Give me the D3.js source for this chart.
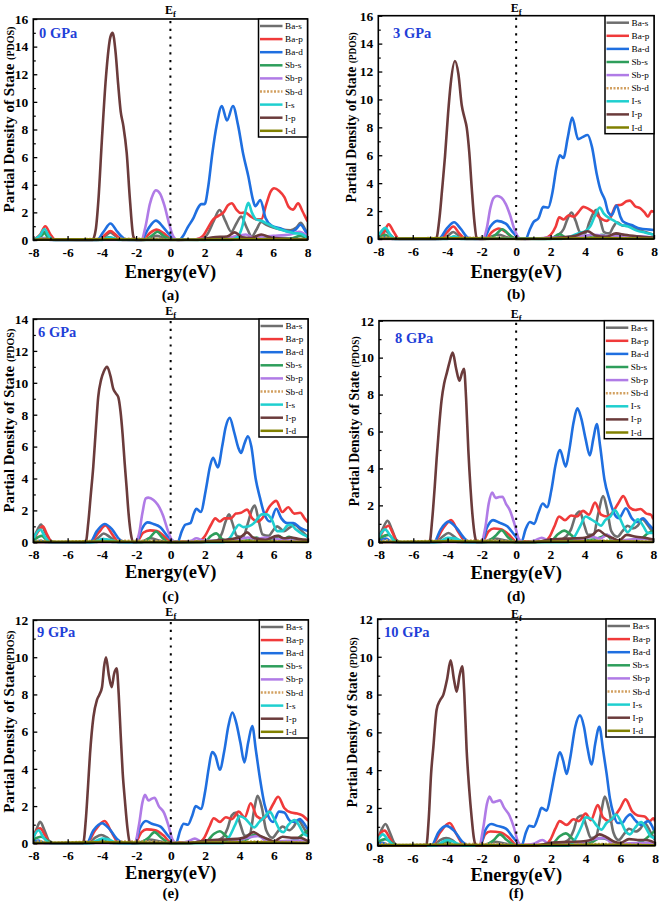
<!DOCTYPE html>
<html><head><meta charset="utf-8">
<script src="https://cdn.jsdelivr.net/npm/d3@7"></script>
<style>body{margin:0;background:#fff}svg{display:block}</style>
</head><body>
<script>
// ---------- labels ----------
const orbitals = ["Ba-s","Ba-p","Ba-d","Sb-s","Sb-p","Sb-d","I-s","I-p","I-d"];
const pressures = ["0 GPa","3 GPa","6 GPa","8 GPa","9 GPa","10 GPa"];
const panelLetters = ["(a)","(b)","(c)","(d)","(e)","(f)"];
const yMaxes = [16,16,14,12,12,12];
const energyTicks = [-8,-6,-4,-2,0,2,4,6,8];
const energyMinor = [-7,-5,-3,-1,1,3,5,7];
const yLabels = ["Partial Density of State ","Partial Density of State ","Partial Density of State ","Partial Density of State ","Partial Density of State","Partial Density of State "];

// ---------- 0 GPa ----------
const baS_0 = [[-8,0],[-7.6,0.3],[-7.35,0.6],[-7.1,0.2],[-6.8,0],[-4.2,0],[-3.8,0.3],[-3.5,0.55],[-3.2,0.3],[-2.8,0],[-1.6,0],[-1.2,0.15],[-0.8,0.3],[-0.4,0.15],[0,0],[1.8,0.05],[2.2,0.5],[2.5,1.3],[2.87,2.17],[3.2,1.4],[3.55,0.6],[3.85,1.2],[4.13,1.7],[4.45,0.9],[4.75,0.25],[5.0,0.7],[5.3,1.3],[5.6,1.1],[6.0,0.9],[6.5,0.75],[7.0,0.7],[7.35,0.9],[7.6,1.25],[7.85,0.8],[8,0.4]];
const baP_0 = [[-8,0],[-7.6,0.4],[-7.3,1.0],[-7.0,0.4],[-6.7,0],[-4.2,0],[-3.8,0.4],[-3.5,0.65],[-3.2,0.4],[-2.8,0],[-1.6,0],[-1.2,0.5],[-0.8,0.75],[-0.4,0.5],[0,0.1],[0.4,0],[1.5,0.05],[1.9,0.3],[2.2,0.9],[2.5,1.5],[2.8,1.75],[3.1,2.0],[3.35,2.5],[3.58,2.66],[3.85,2.2],[4.1,1.95],[4.35,2.0],[4.7,1.7],[5.0,1.5],[5.3,1.5],[5.6,2.6],[5.85,3.5],[6.05,3.75],[6.35,3.55],[6.65,3.1],[6.9,2.4],[7.15,2.2],[7.45,2.65],[7.7,2.1],[7.9,1.6],[8,1.35]];
const baD_0 = [[-8,0],[-7.6,0.1],[-7.35,0.15],[-7.0,0],[-4.3,0],[-3.9,0.6],[-3.5,1.2],[-3.1,0.6],[-2.7,0.1],[-2.4,0],[-1.7,0],[-1.3,0.8],[-0.85,1.4],[-0.4,0.9],[0,0.3],[0.5,0],[0.75,0.3],[1.0,0.9],[1.35,1.6],[1.6,2.3],[1.8,2.6],[2.0,2.6],[2.2,3.8],[2.45,6.3],[2.7,8.3],[3.0,9.7],[3.3,8.65],[3.65,9.7],[3.95,8.3],[4.25,6.2],[4.55,4.6],[4.8,3.0],[4.95,2.45],[5.25,2.9],[5.55,1.6],[5.9,1.05],[6.4,0.85],[6.9,0.6],[7.25,0.7],[7.6,1.1],[7.85,0.7],[8,0.4]];
const sbS_0 = [[-8,0],[-7.6,0.2],[-7.35,0.5],[-7.1,0.1],[-6.8,0],[-4.0,0],[-3.6,0.2],[-3.2,0.05],[-1.5,0],[-1.1,0.3],[-0.75,0.6],[-0.4,0.3],[0,0.05],[2.0,0],[2.6,0.15],[3.5,0.1],[4.5,0.1],[5.3,0.3],[5.8,0.1],[7.0,0.1],[7.6,0.3],[8,0.1]];
const sbP_0 = [[-8,0],[-7.4,0.1],[-7,0],[-1.7,0],[-1.45,1.0],[-1.2,2.6],[-1.0,3.35],[-0.85,3.6],[-0.6,3.35],[-0.35,2.5],[-0.1,1.3],[0.15,0.3],[0.4,0],[1.5,0.05],[2.5,0.15],[3.5,0.2],[4.1,0.35],[4.4,0.4],[4.8,0.2],[5.3,0.25],[6.0,0.3],[7.0,0.4],[7.5,0.6],[8,0.3]];
const sbD_0 = [[-8,0.04],[-7.35,0.12],[-6.8,0.04],[-3.5,0.1],[-0.8,0.1],[0,0.04],[4,0.1],[8,0.04]];
const iS_0 = [[-8,0],[-7.6,0.35],[-7.35,0.8],[-7.1,0.3],[-6.8,0],[-4.0,0],[-3.5,0.2],[-3.0,0],[3.5,0],[3.9,0.2],[4.2,1.0],[4.4,2.2],[4.55,2.7],[4.75,2.0],[5.0,1.5],[5.3,1.4],[5.7,1.15],[6.2,0.85],[6.7,0.65],[7.2,0.5],[7.6,0.45],[8,0.15]];
const iP_0 = [[-8,0],[-7.3,0.05],[-4.55,0],[-4.35,0.8],[-4.2,2.9],[-4.0,7.2],[-3.76,11.8],[-3.5,14.7],[-3.37,15.0],[-3.2,13.6],[-3.05,11.3],[-2.9,9.3],[-2.75,8.3],[-2.55,6.3],[-2.36,2.9],[-2.16,0.25],[-2.0,0],[1.5,0],[2.5,0.2],[3.3,0.25],[3.75,0.55],[4.2,0.2],[4.7,0.15],[5.3,0.4],[5.8,0.2],[6.5,0.1],[8,0.05]];
const iD_0 = [[-8,0.02],[-3.5,0.05],[0,0.02],[5,0.05],[8,0.02]];

// ---------- 3 GPa ----------
const baS_3 = [[-8,0.1],[-7.6,0.6],[-7.3,0.3],[-7.0,0],[-4.3,0],[-3.95,0.25],[-3.65,0.5],[-3.3,0.2],[-3.0,0],[-1.8,0],[-1.4,0.2],[-1.0,0.3],[-0.6,0.15],[0,0],[2.0,0.05],[2.4,0.25],[2.75,0.7],[3.0,1.5],[3.22,1.9],[3.45,1.3],[3.7,0.5],[4.0,0.4],[4.25,1.2],[4.5,1.9],[4.65,2.1],[4.85,1.5],[5.1,0.5],[5.4,0.4],[5.65,0.9],[5.85,1.2],[6.2,0.95],[6.6,1.0],[7.0,0.7],[7.5,0.5],[8,0.3]];
const baP_3 = [[-8,0],[-7.7,0.4],[-7.4,1.05],[-7.1,0.5],[-6.8,0],[-4.4,0],[-4.0,0.5],[-3.65,0.9],[-3.3,0.4],[-2.9,0],[-1.8,0],[-1.4,0.5],[-1.0,0.75],[-0.6,0.5],[-0.2,0.1],[0.3,0],[1.6,0.05],[2.0,0.3],[2.3,0.9],[2.5,1.55],[2.75,1.4],[3.05,1.7],[3.35,1.6],[3.6,1.9],[3.9,2.3],[4.15,2.2],[4.4,2.0],[4.7,1.7],[5.0,1.4],[5.25,1.3],[5.5,1.6],[5.8,2.4],[6.1,2.45],[6.4,2.7],[6.6,2.75],[6.9,2.35],[7.2,2.2],[7.45,1.9],[7.65,1.6],[7.85,2.0],[8,1.95]];
const baD_3 = [[-8,0],[-7.6,0.15],[-7.2,0],[-4.5,0],[-4.0,0.8],[-3.6,1.2],[-3.2,0.7],[-2.8,0.1],[-2.4,0],[-1.9,0],[-1.5,0.9],[-1.1,1.3],[-0.6,1.1],[-0.2,0.5],[0.2,0.05],[0.55,0],[0.8,0.7],[1.0,1.2],[1.3,1.5],[1.57,2.3],[1.86,2.25],[2.1,3.3],[2.35,5.2],[2.54,6.0],[2.74,5.8],[3.0,7.3],[3.25,8.7],[3.6,7.15],[3.85,7.3],[4.15,7.45],[4.4,6.6],[4.67,4.7],[4.9,3.5],[5.15,2.8],[5.35,1.9],[5.54,1.7],[5.83,2.4],[6.05,1.6],[6.2,1.25],[6.7,1.0],[7.2,0.75],[8,0.65]];
const sbS_3 = [[-8,0],[-7.6,0.3],[-7.2,0],[-4.0,0],[-3.6,0.15],[-3.2,0],[-1.6,0],[-1.2,0.3],[-0.8,0.7],[-0.4,0.3],[0,0],[2.0,0],[2.5,0.35],[2.9,0.1],[4.5,0.15],[5.0,0.3],[5.4,0.1],[5.8,0.35],[6.3,0.1],[8,0.1]];
const sbP_3 = [[-8,0],[-1.95,0],[-1.7,0.8],[-1.5,2.2],[-1.3,2.95],[-1.1,3.08],[-0.85,2.95],[-0.6,2.5],[-0.35,1.7],[-0.1,0.7],[0.2,0.05],[0.5,0],[2.0,0.1],[3.5,0.15],[4.5,0.3],[5.5,0.2],[7.0,0.2],[8,0.1]];
const sbD_3 = [[-8,0.04],[-7.6,0.12],[-7.0,0.04],[-3.6,0.1],[-1.0,0.1],[0,0.04],[4.5,0.1],[8,0.04]];
const iS_3 = [[-8,0.2],[-7.6,0.8],[-7.3,0.3],[-7.0,0],[-4.0,0],[-3.6,0.2],[-3.2,0],[-1,0.05],[2.5,0],[3.2,0.2],[3.7,0.45],[4.0,0.55],[4.3,0.9],[4.55,1.6],[4.85,2.25],[5.1,1.8],[5.4,1.5],[5.7,1.3],[6.0,1.05],[6.5,0.9],[7.0,0.6],[7.5,0.45],[8,0.3]];
const iP_3 = [[-8,0],[-4.65,0],[-4.45,1.5],[-4.3,3.5],[-4.13,5.9],[-3.95,9.0],[-3.8,11.1],[-3.55,12.75],[-3.35,11.8],[-3.16,9.6],[-3.0,8.7],[-2.87,8.0],[-2.72,6.2],[-2.58,3.7],[-2.42,1.2],[-2.29,0.05],[-2.1,0],[1.5,0],[2.5,0.1],[3.5,0.25],[4.15,0.55],[4.6,0.25],[5.2,0.15],[5.8,0.4],[6.3,0.3],[7.0,0.2],[8,0.1]];
const iD_3 = [[-8,0.02],[-3.6,0.05],[0,0.02],[5,0.05],[8,0.02]];

// ---------- 6 GPa ----------
const baS_6 = [[-8,0.2],[-7.75,0.8],[-7.55,1.12],[-7.3,0.6],[-7.0,0.1],[-6.7,0],[-4.6,0],[-4.2,0.3],[-3.9,0.55],[-3.5,0.3],[-3.0,0],[-1.8,0],[-1.2,0.25],[-0.6,0.1],[0,0],[2.6,0.05],[3.0,0.6],[3.2,1.3],[3.4,1.75],[3.6,1.2],[3.85,0.4],[4.2,0.3],[4.5,1.2],[4.75,2.1],[4.9,2.3],[5.1,1.5],[5.35,0.5],[5.7,0.4],[6.0,0.8],[6.2,1.0],[6.6,0.7],[6.9,0.9],[7.2,1.1],[7.6,0.75],[8,0.3]];
const baP_6 = [[-8,0.1],[-7.7,0.7],[-7.45,1.0],[-7.2,0.5],[-6.9,0],[-4.7,0],[-4.2,0.6],[-3.8,1.05],[-3.4,0.5],[-3.0,0],[-2.0,0],[-1.6,0.6],[-1.2,0.75],[-0.8,0.7],[-0.4,0.4],[0,0.05],[1.6,0.05],[2.0,0.4],[2.35,1.1],[2.6,1.5],[2.85,1.3],[3.15,1.5],[3.5,1.5],[3.8,1.8],[4.1,1.85],[4.45,2.05],[4.75,1.5],[5.1,1.3],[5.4,1.6],[5.8,2.3],[6.15,2.6],[6.5,1.9],[6.85,2.2],[7.2,1.8],[7.55,1.85],[7.8,1.5],[8,1.25]];
const baD_6 = [[-8,0],[-7.6,0.1],[-7.2,0],[-4.7,0],[-4.3,0.7],[-3.85,1.15],[-3.4,0.8],[-3.0,0.2],[-2.6,0],[-2.0,0],[-1.7,0.8],[-1.35,1.25],[-1.0,1.15],[-0.6,0.95],[-0.2,0.4],[0.2,0.05],[0.4,0],[0.65,0.7],[0.85,1.1],[1.15,1.2],[1.35,1.8],[1.5,2.1],[1.75,1.9],[2.05,3.3],[2.3,4.8],[2.47,5.3],[2.75,4.7],[3.0,6.0],[3.2,7.2],[3.44,7.8],[3.7,6.9],[3.95,5.9],[4.1,5.6],[4.3,6.2],[4.5,6.65],[4.7,6.0],[4.95,4.0],[5.2,2.8],[5.45,1.8],[5.8,1.3],[6.15,2.1],[6.45,1.5],[6.8,1.2],[7.15,1.2],[7.55,0.9],[8,0.7]];
const sbS_6 = [[-8,0.1],[-7.5,0.4],[-7.1,0],[-4.3,0],[-3.9,0.2],[-3.4,0],[-1.7,0],[-1.2,0.3],[-0.85,0.68],[-0.5,0.3],[-0.1,0],[2.0,0.05],[2.35,0.4],[2.65,0.56],[3.0,0.2],[3.5,0.05],[4.6,0.15],[5.0,0.3],[5.4,0.1],[6.0,0.2],[6.3,0.4],[6.6,0.2],[6.9,0.35],[7.3,0.15],[8,0.1]];
const sbP_6 = [[-8,0],[-2.1,0],[-1.85,0.5],[-1.65,1.8],[-1.45,2.75],[-1.3,2.8],[-1.0,2.65],[-0.75,2.35],[-0.45,1.7],[-0.15,0.7],[0.15,0.05],[0.5,0],[1.2,0.1],[1.5,0.25],[1.9,0.1],[3.5,0.1],[4.5,0.3],[5.0,0.2],[5.5,0.3],[6.5,0.15],[8,0.05]];
const sbD_6 = [[-8,0.04],[-7.5,0.12],[-7.0,0.04],[-3.8,0.1],[-1.2,0.1],[0,0.04],[4.5,0.1],[8,0.04]];
const iS_6 = [[-8,0.2],[-7.6,0.8],[-7.3,0.3],[-7.0,0],[-4.5,0],[-4.0,0.2],[-3.5,0.15],[-3.0,0],[3.0,0],[3.5,0.35],[3.8,0.9],[3.97,1.1],[4.25,0.95],[4.55,1.0],[4.85,1.2],[5.1,1.55],[5.3,1.75],[5.6,1.75],[5.9,1.4],[6.2,0.7],[6.5,0.7],[6.8,1.05],[7.0,1.1],[7.3,0.8],[7.7,0.5],[8,0.35]];
const iP_6 = [[-8,0],[-4.95,0],[-4.8,1.2],[-4.65,3.0],[-4.51,4.7],[-4.35,7.2],[-4.22,9.1],[-4.05,10.2],[-3.9,10.7],[-3.7,11.0],[-3.5,10.4],[-3.35,9.65],[-3.2,9.35],[-3.05,9.1],[-2.92,8.2],[-2.8,6.8],[-2.68,5.0],[-2.57,3.5],[-2.45,1.8],[-2.32,0.55],[-2.18,0],[1.5,0],[2.5,0.1],[3.5,0.2],[4.1,0.35],[4.45,0.62],[4.8,0.3],[5.5,0.15],[6.2,0.4],[6.6,0.25],[7.0,0.3],[7.5,0.2],[8,0.15]];
const iD_6 = [[-8,0.02],[-3.8,0.05],[0,0.02],[5,0.05],[8,0.02]];

// ---------- 8 GPa ----------
const baS_8 = [[-8,0.3],[-7.75,0.8],[-7.5,1.17],[-7.25,0.7],[-7.0,0.15],[-6.7,0],[-4.7,0],[-4.3,0.3],[-3.95,0.5],[-3.6,0.3],[-3.2,0],[-2.0,0],[-1.3,0.2],[-0.6,0.1],[0,0],[2.5,0.1],[2.9,0.3],[3.2,0.7],[3.45,1.4],[3.72,1.66],[3.95,1.0],[4.2,0.4],[4.5,0.4],[4.8,1.6],[5.07,2.5],[5.3,1.8],[5.55,0.6],[5.9,0.3],[6.2,0.6],[6.5,0.9],[6.8,0.75],[7.1,0.9],[7.35,1.25],[7.7,0.9],[8,0.5]];
const baP_8 = [[-8,0.2],[-7.7,0.7],[-7.45,0.9],[-7.2,0.5],[-6.9,0],[-4.8,0],[-4.3,0.7],[-3.8,1.2],[-3.4,0.6],[-2.9,0],[-2.0,0],[-1.6,0.6],[-1.3,0.75],[-0.9,0.7],[-0.4,0.4],[0,0.05],[1.6,0.05],[1.95,0.3],[2.25,0.9],[2.5,1.4],[2.85,1.2],[3.2,1.45],[3.55,1.4],[3.9,1.7],[4.25,1.5],[4.6,2.15],[4.95,1.5],[5.3,1.4],[5.6,1.6],[5.95,2.1],[6.25,2.5],[6.6,1.9],[6.95,1.75],[7.25,1.8],[7.6,1.55],[7.85,1.5],[8,1.25]];
const baD_8 = [[-8,0.1],[-7.6,0.2],[-7.2,0],[-4.8,0],[-4.4,0.7],[-3.95,1.12],[-3.5,0.8],[-3.0,0.2],[-2.6,0],[-2.0,0],[-1.7,0.8],[-1.35,1.2],[-0.95,1.05],[-0.5,0.85],[-0.1,0.4],[0.3,0],[0.55,0.7],[0.8,1.1],[1.05,1.0],[1.3,1.6],[1.55,2.1],[1.8,1.9],[2.05,2.8],[2.3,4.2],[2.56,5.0],[2.89,4.1],[3.1,5.0],[3.35,6.5],[3.57,7.25],[3.8,6.7],[4.05,5.6],[4.3,4.7],[4.5,5.6],[4.7,6.4],[4.9,5.2],[5.15,3.4],[5.45,2.3],[5.75,1.5],[6.0,1.3],[6.4,1.84],[6.75,1.3],[7.05,1.1],[7.4,1.3],[7.7,1.0],[8,0.7]];
const sbS_8 = [[-8,0.2],[-7.45,0.4],[-7.1,0.1],[-6.8,0],[-4.4,0],[-3.9,0.2],[-3.4,0],[-1.8,0],[-1.2,0.35],[-0.85,0.65],[-0.5,0.3],[0,0],[2.0,0.05],[2.45,0.45],[2.8,0.63],[3.2,0.4],[3.6,0.1],[4.5,0.15],[5.0,0.3],[5.3,0.4],[5.6,0.1],[6.5,0.05],[7.3,0.2],[7.7,0.5],[8,0.6]];
const sbP_8 = [[-8,0],[-2.05,0],[-1.8,0.8],[-1.6,2.1],[-1.4,2.69],[-1.2,2.4],[-1.0,2.45],[-0.8,2.47],[-0.6,2.1],[-0.35,1.7],[-0.1,1.0],[0.15,0.2],[0.4,0],[1.1,0.1],[1.5,0.25],[1.9,0.1],[3.5,0.1],[4.4,0.3],[4.9,0.2],[5.3,0.4],[5.8,0.1],[7.5,0.2],[8,0.1]];
const sbD_8 = [[-8,0.04],[-7.5,0.12],[-7.0,0.04],[-3.9,0.1],[-1.2,0.1],[0,0.04],[5,0.1],[8,0.04]];
const iS_8 = [[-8,0.3],[-7.65,0.7],[-7.3,0.3],[-7.0,0],[-4.6,0],[-4.0,0.25],[-3.5,0.2],[-3.0,0],[3.0,0],[3.4,0.3],[3.75,0.9],[4.05,1.4],[4.35,1.25],[4.7,1.05],[4.95,0.9],[5.2,1.2],[5.5,1.4],[5.75,1.75],[6.0,1.4],[6.3,0.8],[6.5,0.55],[6.8,0.9],[7.1,1.25],[7.4,0.9],[7.7,0.5],[8,0.5]];
const iP_8 = [[-8,0],[-5.05,0],[-4.9,1.2],[-4.75,3.0],[-4.64,4.5],[-4.5,6.2],[-4.35,7.7],[-4.2,8.6],[-4.05,9.15],[-3.9,9.7],[-3.7,10.27],[-3.5,9.4],[-3.31,8.75],[-3.15,9.2],[-3.04,9.39],[-2.92,7.8],[-2.79,5.0],[-2.66,2.9],[-2.54,1.4],[-2.4,0.3],[-2.3,0],[1.0,0],[2.0,0.15],[3.0,0.2],[4.0,0.25],[4.45,0.4],[4.8,0.65],[5.2,0.4],[5.7,0.2],[6.0,0.1],[6.45,0.4],[7.0,0.3],[7.5,0.25],[8,0.15]];
const iD_8 = [[-8,0.02],[-3.9,0.05],[0,0.02],[5,0.05],[8,0.02]];

// ---------- 9 GPa ----------
const baS_9 = [[-8,0.3],[-7.8,0.8],[-7.6,1.15],[-7.35,0.7],[-7.1,0.15],[-6.8,0],[-4.8,0],[-4.4,0.3],[-4.05,0.45],[-3.7,0.3],[-3.3,0],[-2.0,0],[-1.3,0.2],[-0.6,0.1],[0,0],[2.5,0.1],[3.0,0.3],[3.3,0.8],[3.55,1.5],[3.8,1.65],[4.05,1.0],[4.3,0.4],[4.6,0.5],[4.85,1.8],[5.05,2.55],[5.3,1.9],[5.55,0.7],[5.9,0.3],[6.2,0.6],[6.5,0.9],[6.9,0.7],[7.15,0.9],[7.4,1.25],[7.75,0.8],[8,0.4]];
const baP_9 = [[-8,0.3],[-7.8,0.7],[-7.6,0.8],[-7.3,0.4],[-7.0,0],[-4.9,0],[-4.4,0.7],[-3.85,1.2],[-3.45,0.6],[-3.0,0],[-2.1,0],[-1.7,0.6],[-1.4,0.75],[-0.9,0.7],[-0.4,0.4],[0,0.05],[1.6,0.05],[1.95,0.3],[2.25,0.9],[2.5,1.35],[2.85,1.15],[3.2,1.4],[3.55,1.3],[3.95,1.7],[4.3,1.4],[4.65,2.15],[5.0,1.45],[5.35,1.3],[5.6,1.5],[5.95,2.1],[6.25,2.5],[6.6,1.9],[7.0,1.65],[7.35,1.6],[7.65,1.5],[8,1.2]];
const baD_9 = [[-8,0.1],[-7.7,0.15],[-7.3,0],[-4.9,0],[-4.5,0.7],[-4.0,1.08],[-3.6,0.8],[-3.1,0.2],[-2.7,0],[-2.1,0],[-1.8,0.8],[-1.45,1.2],[-1.1,1.05],[-0.6,0.9],[-0.15,0.4],[0.3,0],[0.55,0.7],[0.75,1.05],[1.0,1.0],[1.25,1.5],[1.45,2.0],[1.75,1.85],[2.0,2.8],[2.2,4.0],[2.4,4.9],[2.6,4.7],[2.85,3.95],[3.1,4.9],[3.35,6.3],[3.58,7.03],[3.8,6.5],[4.05,5.4],[4.28,4.35],[4.5,5.4],[4.74,6.3],[4.95,5.0],[5.2,3.4],[5.45,2.1],[5.7,1.4],[5.95,1.15],[6.3,1.7],[6.6,1.65],[6.95,1.2],[7.25,1.15],[7.5,1.3],[7.8,1.0],[8,0.7]];
const sbS_9 = [[-8,0.2],[-7.55,0.35],[-7.1,0.1],[-6.8,0],[-4.5,0],[-4.0,0.2],[-3.5,0],[-1.9,0],[-1.3,0.3],[-0.95,0.6],[-0.55,0.3],[0,0],[2.0,0.05],[2.5,0.5],[2.85,0.65],[3.2,0.4],[3.6,0.1],[4.4,0.2],[4.8,0.45],[5.4,0.3],[5.8,0.1],[6.5,0.05],[7.3,0.2],[7.7,0.5],[8,0.7]];
const sbP_9 = [[-8,0],[-2.1,0],[-1.85,1.0],[-1.65,2.2],[-1.5,2.6],[-1.3,2.3],[-1.1,2.4],[-0.95,2.45],[-0.7,2.0],[-0.4,1.65],[-0.15,1.0],[0.1,0.2],[0.35,0],[1.0,0.1],[1.4,0.25],[1.8,0.1],[3.5,0.1],[4.5,0.3],[5.1,0.4],[5.6,0.1],[7.5,0.15],[8,0.1]];
const sbD_9 = [[-8,0.04],[-7.6,0.12],[-7.0,0.04],[-4.0,0.1],[-1.3,0.1],[0,0.04],[5,0.1],[8,0.04]];
const iS_9 = [[-8,0.3],[-7.7,0.7],[-7.4,0.3],[-7.0,0],[-4.7,0],[-4.0,0.25],[-3.6,0.2],[-3.1,0],[3.0,0],[3.4,0.35],[3.75,1.0],[4.0,1.45],[4.35,1.3],[4.6,1.05],[4.85,0.85],[5.15,1.15],[5.45,1.4],[5.75,1.7],[6.05,1.25],[6.35,0.7],[6.55,0.6],[6.85,1.0],[7.2,1.25],[7.5,0.9],[7.75,0.5],[8,0.4]];
const iP_9 = [[-8,0],[-5.1,0],[-4.95,1.2],[-4.82,3.0],[-4.7,4.8],[-4.5,6.8],[-4.3,7.7],[-4.15,8.0],[-4.0,8.4],[-3.88,9.5],[-3.77,10.0],[-3.6,9.0],[-3.44,8.39],[-3.3,9.1],[-3.15,9.4],[-3.03,8.0],[-2.92,5.9],[-2.8,3.8],[-2.67,2.3],[-2.52,0.8],[-2.4,0.1],[-2.25,0],[1.0,0],[2.0,0.15],[3.0,0.2],[4.0,0.25],[4.4,0.35],[4.8,0.6],[5.2,0.4],[5.7,0.2],[6.0,0.1],[6.5,0.35],[7.0,0.3],[7.5,0.3],[8,0.1]];
const iD_9 = [[-8,0.02],[-4.0,0.05],[0,0.02],[5,0.05],[8,0.02]];

// ---------- 10 GPa ----------
const baS_10 = [[-8,0.3],[-7.8,0.8],[-7.55,1.15],[-7.3,0.7],[-7.05,0.15],[-6.8,0],[-4.8,0],[-4.4,0.3],[-4.05,0.4],[-3.7,0.3],[-3.3,0],[-2.0,0],[-1.3,0.2],[-0.6,0.1],[0,0],[2.5,0.1],[3.0,0.3],[3.3,0.8],[3.55,1.5],[3.8,1.6],[4.05,1.0],[4.3,0.4],[4.6,0.5],[4.9,1.8],[5.1,2.6],[5.35,1.9],[5.6,0.7],[5.9,0.3],[6.2,0.6],[6.5,0.9],[6.9,0.75],[7.15,0.9],[7.4,1.2],[7.75,0.7],[8,0.3]];
const baP_10 = [[-8,0.3],[-7.8,0.7],[-7.6,0.8],[-7.3,0.4],[-7.0,0],[-4.9,0],[-4.4,0.7],[-3.85,1.2],[-3.45,0.6],[-3.0,0],[-2.1,0],[-1.8,0.6],[-1.5,0.75],[-0.9,0.7],[-0.4,0.4],[0,0.05],[1.6,0.05],[1.95,0.3],[2.25,0.9],[2.5,1.3],[2.9,1.1],[3.3,1.4],[3.6,1.3],[4.0,1.7],[4.3,1.35],[4.7,2.15],[5.0,1.5],[5.4,1.3],[5.7,1.6],[6.0,2.0],[6.3,2.45],[6.7,1.8],[7.0,1.6],[7.4,1.55],[7.7,1.3],[7.9,1.45],[8,1.3]];
const baD_10 = [[-8,0.1],[-7.7,0.15],[-7.3,0],[-4.9,0],[-4.5,0.7],[-4.05,1.05],[-3.6,0.8],[-3.1,0.2],[-2.7,0],[-2.1,0],[-1.8,0.8],[-1.45,1.15],[-1.1,1.05],[-0.6,0.9],[-0.15,0.4],[0.3,0],[0.55,0.7],[0.75,1.05],[1.0,1.0],[1.25,1.5],[1.45,2.0],[1.75,1.85],[2.0,2.8],[2.25,4.0],[2.52,4.95],[2.7,4.5],[2.9,3.8],[3.1,4.6],[3.4,6.3],[3.67,6.9],[3.9,6.3],[4.1,5.2],[4.35,4.3],[4.55,5.4],[4.79,6.3],[5.0,5.1],[5.21,3.8],[5.4,2.5],[5.6,1.7],[5.85,1.2],[6.1,1.2],[6.35,1.5],[6.56,1.66],[6.85,1.35],[7.2,1.1],[7.6,1.3],[7.85,1.0],[8,0.65]];
const sbS_10 = [[-8,0.2],[-7.55,0.35],[-7.1,0.1],[-6.8,0],[-4.5,0],[-4.0,0.2],[-3.5,0],[-1.9,0],[-1.3,0.3],[-0.95,0.6],[-0.55,0.3],[0,0],[2.0,0.05],[2.5,0.5],[2.85,0.65],[3.2,0.4],[3.6,0.1],[4.4,0.2],[4.8,0.4],[5.4,0.3],[5.8,0.1],[6.5,0.05],[7.3,0.25],[7.7,0.55],[8,0.8]];
const sbP_10 = [[-8,0],[-2.15,0],[-1.9,1.0],[-1.7,2.2],[-1.55,2.6],[-1.35,2.3],[-1.15,2.35],[-0.95,2.4],[-0.7,2.0],[-0.4,1.6],[-0.15,1.0],[0.1,0.2],[0.35,0],[1.0,0.1],[1.5,0.3],[1.9,0.1],[3.5,0.1],[4.5,0.35],[5.1,0.4],[5.6,0.1],[7.5,0.15],[8,0.1]];
const sbD_10 = [[-8,0.04],[-7.6,0.12],[-7.0,0.04],[-4.0,0.1],[-1.3,0.1],[0,0.04],[5,0.1],[8,0.04]];
const iS_10 = [[-8,0.3],[-7.7,0.6],[-7.4,0.3],[-7.0,0],[-4.7,0],[-4.0,0.3],[-3.6,0.2],[-3.1,0],[3.0,0],[3.4,0.35],[3.75,1.0],[4.0,1.5],[4.35,1.4],[4.65,1.05],[4.9,0.85],[5.2,1.2],[5.5,1.4],[5.75,1.65],[6.05,1.25],[6.35,0.7],[6.55,0.6],[6.85,0.95],[7.2,1.25],[7.5,0.9],[7.75,0.5],[8,0.4]];
const iP_10 = [[-8,0],[-5.2,0],[-5.05,1.5],[-4.92,3.8],[-4.79,5.2],[-4.6,7.2],[-4.4,7.7],[-4.21,8.0],[-4.0,8.8],[-3.79,9.82],[-3.6,8.8],[-3.44,8.15],[-3.28,9.0],[-3.12,9.5],[-3.0,8.0],[-2.87,5.1],[-2.72,3.0],[-2.58,1.5],[-2.45,0.4],[-2.33,0],[1.0,0],[2.0,0.15],[3.0,0.2],[4.0,0.25],[4.4,0.35],[4.8,0.6],[5.2,0.45],[5.7,0.2],[6.0,0.15],[6.5,0.35],[7.0,0.3],[7.5,0.3],[8,0.15]];
const iD_10 = [[-8,0.02],[-4.0,0.05],[0,0.02],[5,0.05],[8,0.02]];

const panelSeries = [
  [baS_0,baP_0,baD_0,sbS_0,sbP_0,sbD_0,iS_0,iP_0,iD_0],
  [baS_3,baP_3,baD_3,sbS_3,sbP_3,sbD_3,iS_3,iP_3,iD_3],
  [baS_6,baP_6,baD_6,sbS_6,sbP_6,sbD_6,iS_6,iP_6,iD_6],
  [baS_8,baP_8,baD_8,sbS_8,sbP_8,sbD_8,iS_8,iP_8,iD_8],
  [baS_9,baP_9,baD_9,sbS_9,sbP_9,sbD_9,iS_9,iP_9,iD_9],
  [baS_10,baP_10,baD_10,sbS_10,sbP_10,sbD_10,iS_10,iP_10,iD_10]
];

// ---------- styles / layout ----------
const colors = ["#6e6e6e","#f03a3a","#1f6fe0","#2e9e5b","#b07be6","#d2a060","#1fcfcf","#6b3b3b","#808000"];
const dashes = [null,null,null,null,null,"2,1.5",null,null,null];
const layout = [
  {l:33.3,r:307.5,t:19,b:240,ylx:13.5,yfs:15,ysf:10,xlabY:278.3,subY:300,efY:14,gx:39,gy:38},
  {l:378.3,r:654,t:15.7,b:239,ylx:356,yfs:13.7,ysf:9.3,xlabY:278,subY:299,efY:12,gx:393,gy:38},
  {l:33.3,r:308,t:319,b:542.3,ylx:13.5,yfs:14.8,ysf:10,xlabY:578,subY:601,efY:315,gx:38,gy:337},
  {l:379,r:653.3,t:320.7,b:542.3,ylx:359,yfs:13.7,ysf:9.3,xlabY:579,subY:601,efY:318,gx:395,gy:343},
  {l:33.3,r:308.3,t:620,b:843.3,ylx:13.5,yfs:15,ysf:10,xlabY:879,subY:898,efY:616,gx:37,gy:637},
  {l:377.7,r:655,t:619,b:845.7,ylx:357,yfs:13.7,ysf:9.3,xlabY:880.5,subY:898,efY:618,gx:384,gy:637}
];
const FONT = "'Liberation Serif','Times New Roman',serif";

const svg = d3.select("body").append("svg").attr("width",661).attr("height",908)
  .style("font-family",FONT);
svg.append("rect").attr("width",661).attr("height",908).attr("fill","#fff");

layout.forEach((L,pi)=>{
  const g = svg.append("g");
  const x = d3.scaleLinear().domain([-8,8]).range([L.l,L.r]);
  const y = d3.scaleLinear().domain([0,yMaxes[pi]]).range([L.b,L.t]);
  const cid = "clip"+pi;
  g.append("clipPath").attr("id",cid).append("rect")
    .attr("x",L.l).attr("y",L.t).attr("width",L.r-L.l).attr("height",L.b-L.t+1.5);

  // curves
  const line = d3.line().x(d=>x(d[0])).y(d=>y(d[1])).curve(d3.curveMonotoneX);
  const cg = g.append("g").attr("clip-path",`url(#${cid})`);
  panelSeries[pi].forEach((s,si)=>{
    cg.append("path").attr("d",line(s)).attr("fill","none")
      .attr("stroke",colors[si]).attr("stroke-width",si===5?2.2:2.6)
      .attr("stroke-linejoin","round")
      .attr("stroke-dasharray",dashes[si]);
  });

  // Fermi level
  g.append("line").attr("x1",x(0)).attr("x2",x(0)).attr("y1",L.t+2).attr("y2",L.b)
    .attr("stroke","#000").attr("stroke-width",2).attr("stroke-dasharray","2.2,5.6");

  // axes
  const xa = d3.axisBottom(x).tickValues(energyTicks).tickSizeInner(-4).tickSizeOuter(0)
    .tickPadding(6).tickFormat(d=> d<0 ? "-"+Math.abs(d) : String(d));
  const xag = g.append("g").attr("transform",`translate(0,${L.b})`).call(xa);
  xag.select(".domain").remove();
  xag.selectAll("line").attr("stroke-width",1.3);
  xag.selectAll("text").attr("y",17).attr("dy",null).attr("font-size",13.5)
    .attr("font-weight","bold").attr("font-family",FONT).attr("fill","#000");
  const xm = d3.axisBottom(x).tickValues(energyMinor).tickSizeInner(-2.5).tickSizeOuter(0).tickFormat("");
  const xmg = g.append("g").attr("transform",`translate(0,${L.b})`).call(xm);
  xmg.select(".domain").remove(); xmg.selectAll("line").attr("stroke-width",1.2);

  const ya = d3.axisLeft(y).tickValues(d3.range(0,yMaxes[pi]+1,2)).tickSizeInner(-4).tickSizeOuter(0).tickPadding(5);
  const yag = g.append("g").attr("transform",`translate(${L.l},0)`).call(ya);
  yag.select(".domain").remove();
  yag.selectAll("line").attr("stroke-width",1.3);
  yag.selectAll("text").attr("font-size",13.5).attr("font-weight","bold")
    .attr("font-family",FONT).attr("fill","#000");
  const ym = d3.axisLeft(y).tickValues(d3.range(1,yMaxes[pi],2)).tickSizeInner(-2.5).tickSizeOuter(0).tickFormat("");
  const ymg = g.append("g").attr("transform",`translate(${L.l},0)`).call(ym);
  ymg.select(".domain").remove(); ymg.selectAll("line").attr("stroke-width",1.2);

  // frame
  g.append("rect").attr("x",L.l).attr("y",L.t).attr("width",L.r-L.l).attr("height",L.b-L.t)
    .attr("fill","none").attr("stroke","#000").attr("stroke-width",1.6);

  // legend
  const lw = 49, lh = 118;
  const lg = g.append("g").attr("transform",`translate(${L.r-lw},${L.t})`);
  lg.append("rect").attr("width",lw).attr("height",lh).attr("fill","#fff")
    .attr("stroke","#000").attr("stroke-width",1.5);
  orbitals.forEach((name,i)=>{
    const yy = 7 + i*13.1;
    lg.append("line").attr("x1",1.5).attr("x2",24).attr("y1",yy).attr("y2",yy)
      .attr("stroke",colors[i]).attr("stroke-width",2.5).attr("stroke-dasharray",dashes[i]);
    lg.append("text").attr("x",26.5).attr("y",yy).attr("dy","0.33em")
      .attr("font-size",9.2).attr("fill","#000").text(name);
  });

  // pressure label
  g.append("text").attr("x",L.gx).attr("y",L.gy).attr("font-size",14.5).attr("font-weight","bold")
    .attr("fill","#1f3fd8").text(pressures[pi]);

  // E_f
  const ef = g.append("text").attr("x",x(0)).attr("y",L.efY).attr("text-anchor","middle")
    .attr("font-weight","bold").attr("font-size",12);
  ef.append("tspan").text("E");
  ef.append("tspan").attr("font-size",8.5).attr("dy",2.5).text("f");

  // axis titles
  g.append("text").attr("x",(L.l+L.r)/2).attr("y",L.xlabY).attr("text-anchor","middle")
    .attr("font-size",18.5).attr("font-weight","bold").text("Energy(eV)");
  const cy = (L.t+L.b)/2 - 10;
  const yl = g.append("text").attr("transform",`translate(${L.ylx},${cy}) rotate(-90)`)
    .attr("text-anchor","middle").attr("font-weight","bold").attr("font-size",L.yfs);
  yl.append("tspan").text(yLabels[pi]);
  yl.append("tspan").attr("font-size",L.ysf).text("(PDOS)");

  // panel letter
  g.append("text").attr("x",(L.l+L.r)/2).attr("y",L.subY).attr("text-anchor","middle")
    .attr("font-size",15).attr("font-weight","bold").text(panelLetters[pi]);
});
</script>
</body></html>
